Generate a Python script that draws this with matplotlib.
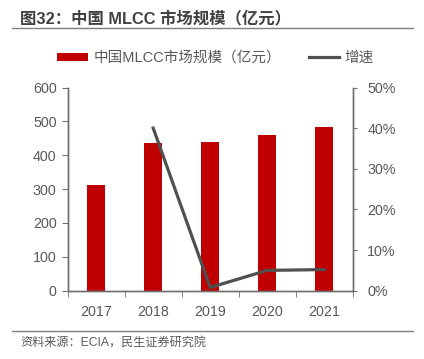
import matplotlib
matplotlib.use("Agg")
import matplotlib.pyplot as plt
from matplotlib.lines import Line2D
from matplotlib.patches import Patch
from matplotlib.ticker import FuncFormatter, FixedLocator

plt.rcParams['font.family'] = ['Liberation Sans', 'Noto Sans CJK SC', 'DejaVu Sans']

years = ['2017', '2018', '2019', '2020', '2021']
market_size = [312, 435, 438, 459, 483]
growth_years = ['2018', '2019', '2020', '2021']
growth = [40.0, 0.8, 5.0, 5.2]
left_ticks = [0, 100, 200, 300, 400, 500, 600]
right_ticks = [0, 10, 20, 30, 40, 50]

title = '图32：中国 MLCC 市场规模（亿元）'
bar_label = '中国MLCC市场规模（亿元）'
line_label = '增速'
source = '资料来源：ECIA，民生证券研究院'

W, H = 424, 359
fig = plt.figure(figsize=(W / 100, H / 100), dpi=100)

ax_l, ax_r, ax_t, ax_b = 67.7, 352.7, 87.5, 290.7
ax = fig.add_axes([ax_l / W, 1 - ax_b / H, (ax_r - ax_l) / W, (ax_b - ax_t) / H])
ax2 = ax.twinx()

text_color = '#595959'
spine_color = '#6f6f6f'
red = '#C00000'
gray = '#505050'

x = list(range(len(years)))
ax.bar(x, market_size, width=0.31, color=red, zorder=2)
ax.set_xlim(-0.5, len(years) - 0.5)
ax.set_ylim(0, 600)
ax.set_yticks(left_ticks)
ax.set_xticks(x)
ax.set_xticklabels(years)
ax.xaxis.set_minor_locator(FixedLocator([i - 0.5 for i in range(len(years) + 1)]))
ax.tick_params(axis='x', which='major', length=0, labelsize=10.3, colors=text_color, pad=10)
ax.tick_params(axis='x', which='minor', length=4.5, direction='out', color=spine_color)
ax.tick_params(axis='y', length=4, direction='out', labelsize=10.3, colors=text_color,
               color=spine_color, pad=4)

gx = [years.index(y) for y in growth_years]
ax2.plot(gx, growth, color=gray, linewidth=2.3, zorder=3)
ax2.set_ylim(0, 50)
ax2.set_yticks(right_ticks)
ax2.yaxis.set_major_formatter(FuncFormatter(lambda v, p: f'{int(v)}%'))
ax2.tick_params(axis='y', length=3, direction='out', labelsize=10.3, colors=text_color,
                color=spine_color, pad=7.5)

for a in (ax, ax2):
    a.spines['top'].set_visible(False)
    for s in ('left', 'right', 'bottom'):
        a.spines[s].set_color(spine_color)
        a.spines[s].set_linewidth(1.0)

# title and separator lines
fig.text(20 / W, 1 - 18 / H, title, fontsize=11.8, fontweight='bold', color='#404040', va='center', ha='left')
fig.add_artist(Line2D([12 / W, 413 / W], [1 - 28 / H, 1 - 28 / H], color='#7f7f7f', linewidth=1.0))
fig.add_artist(Line2D([12 / W, 413 / W], [1 - 331 / H, 1 - 331 / H], color='#7f7f7f', linewidth=1.0))
fig.text(20 / W, 1 - 344 / H, source, fontsize=8.7, color=text_color, va='center', ha='left')

handles = [Patch(facecolor=red, edgecolor='none'), Line2D([0], [0], color=gray, linewidth=2.3)]
fig.legend(handles, [bar_label, line_label], loc='center', bbox_to_anchor=(215.5 / W, 1 - 58 / H),
           ncol=2, frameon=False, fontsize=10.5, labelcolor=text_color, handlelength=2.1,
           handleheight=0.45, columnspacing=1.9, handletextpad=0.35)

fig.savefig('out.png', dpi=100)
